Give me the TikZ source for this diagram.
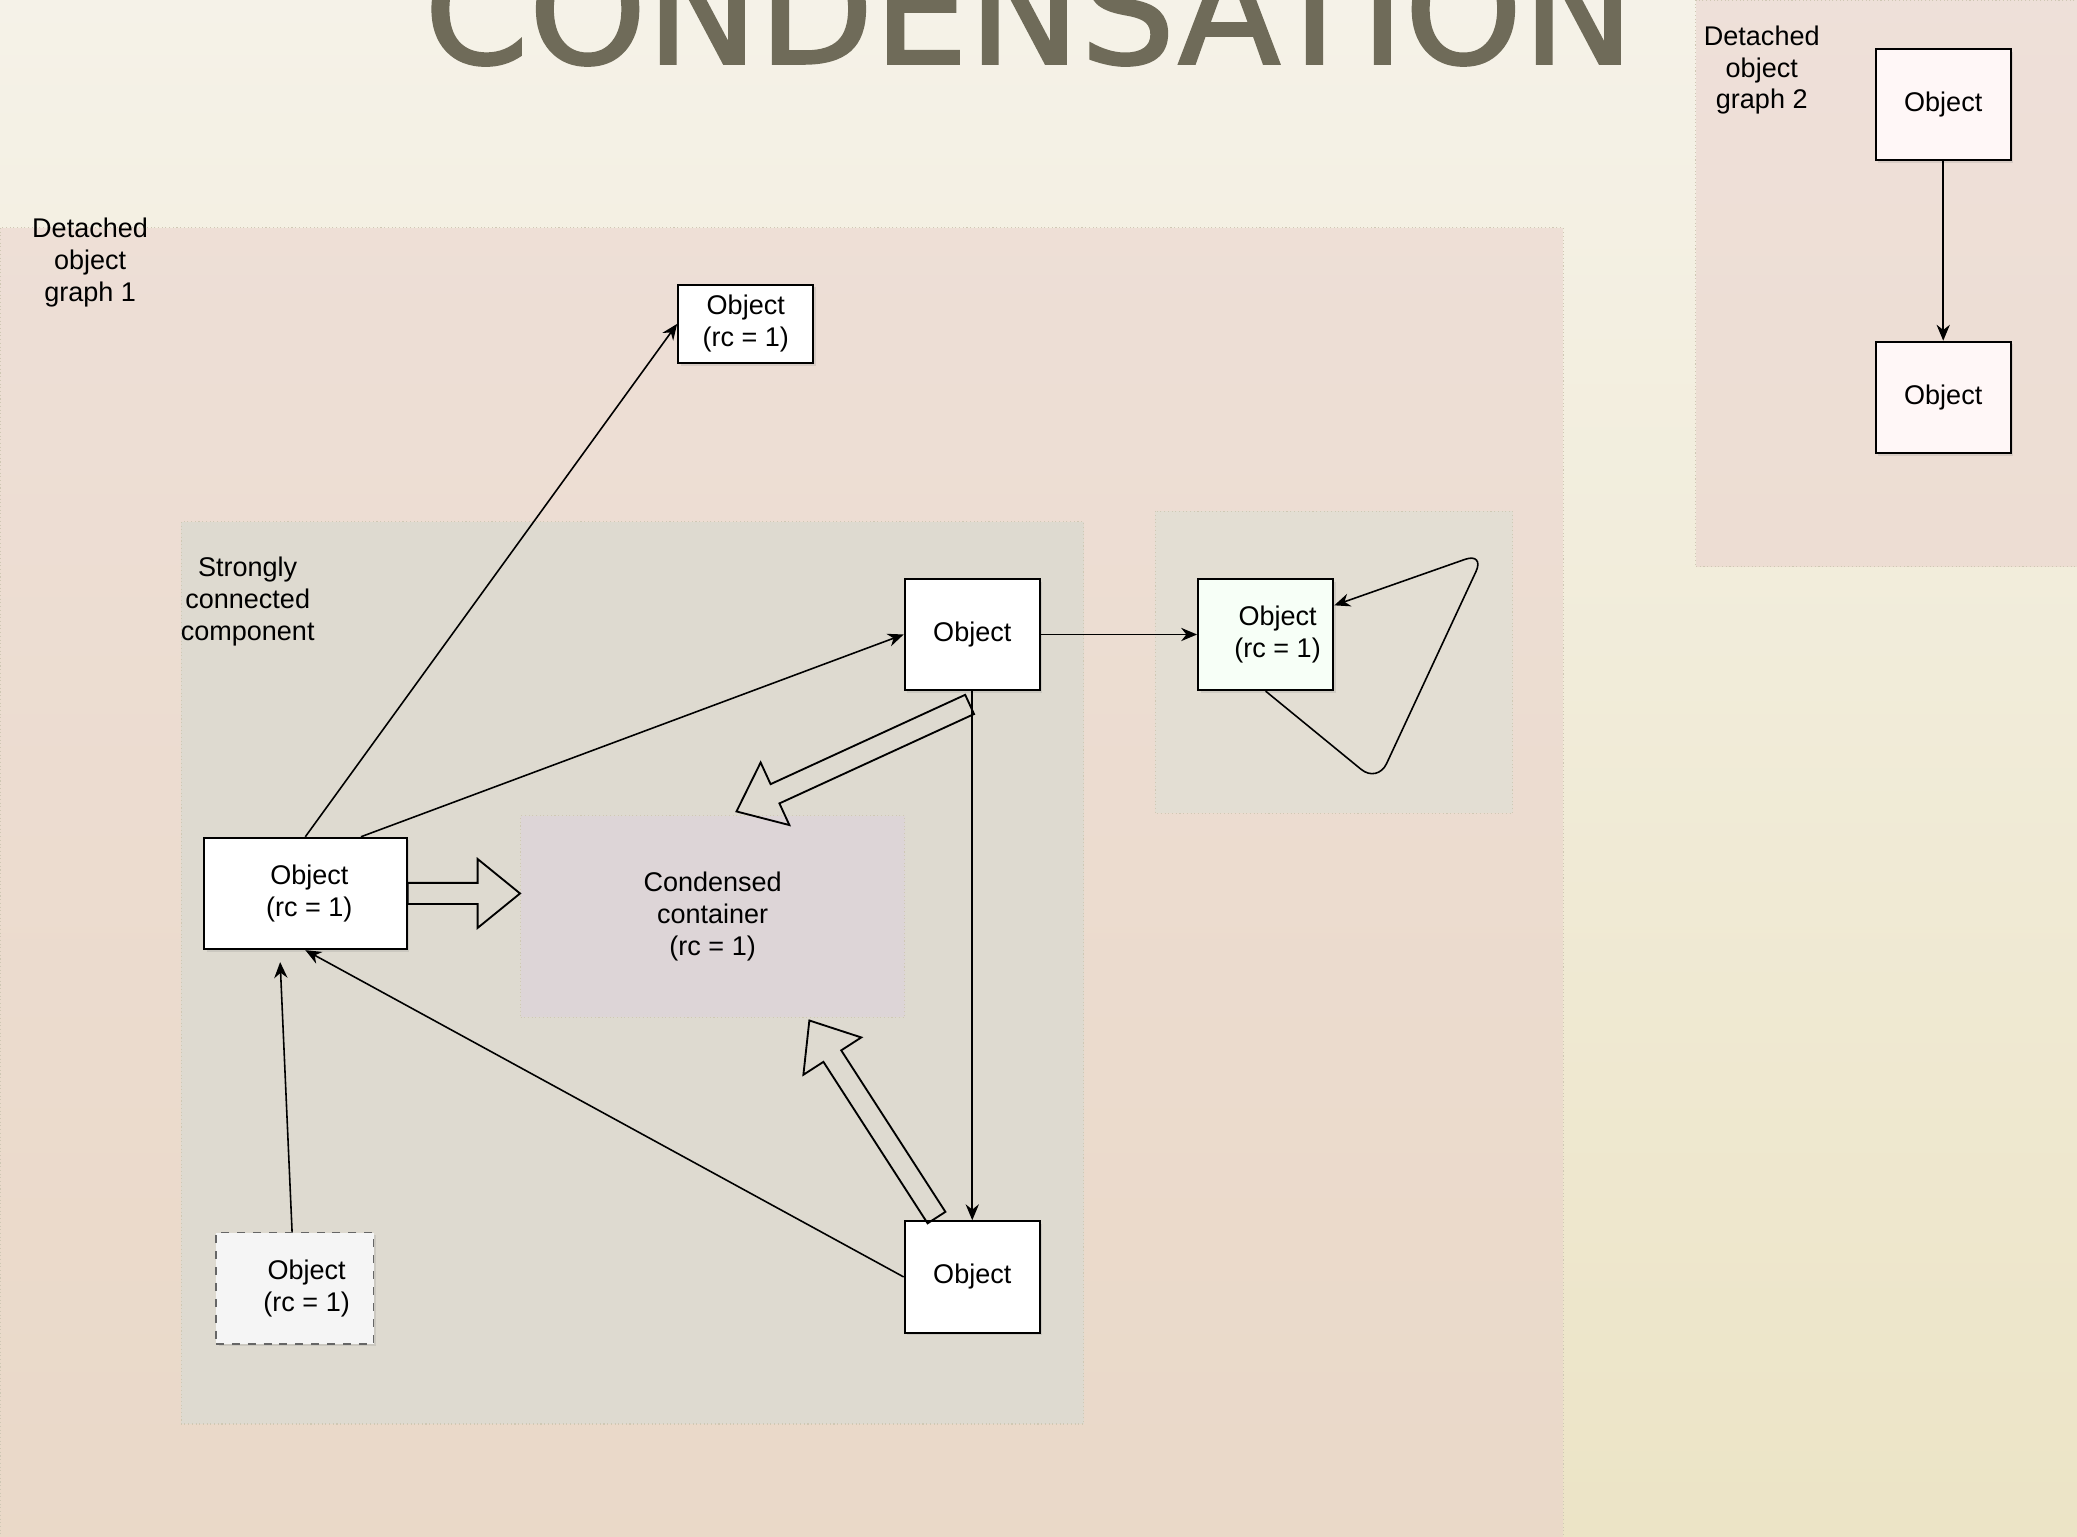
\documentclass[tikz,border=0pt]{standalone}
\usepackage{fontspec}
\setmainfont{Liberation Sans}
\newfontfamily\titlefont[FakeBold=1.6]{DejaVu Sans}
\usepackage{tikz}
\usetikzlibrary{arrows.meta,calc,shadows}
\definecolor{paper}{HTML}{F5F2E8}
\definecolor{paperlow}{HTML}{ECE4C6}
\definecolor{graphpink}{HTML}{E9CFCB}
\definecolor{sccgray}{HTML}{DEDAD0}
\definecolor{loopgray}{HTML}{E3DED3}
\definecolor{condmauve}{HTML}{DDD5D7}
\definecolor{titleink}{HTML}{6F6B59}
\definecolor{framedots}{HTML}{CFC8B4}
\newcommand\boxfont{\fontsize{10.2}{12}\selectfont}
\newcommand\fatarrow[2]{%
 \coordinate (fh) at ($(#2)!16pt!(#1)$);
 \draw[fat] ($(#1)!4pt!90:(#2)$) -- ($(fh)!4pt!90:(#2)$) -- ($(fh)!13pt!90:(#2)$)
  -- (#2) -- ($(fh)!13pt!-90:(#2)$) -- ($(fh)!4pt!-90:(#2)$)
  -- ($(#1)!4pt!-90:(#2)$) -- cycle;}

\begin{document}
\begin{tikzpicture}[x=0.5pt,y=-0.5pt,
 obj/.style={draw,line width=0.8pt,fill=white,minimum width=51pt,minimum height=42pt,
  inner sep=0pt,align=center,font=\boxfont,
  drop shadow={opacity=0.2,shadow xshift=1pt,shadow yshift=-1pt}},
 group/.style={draw=framedots,densely dotted,line width=0.4pt},
 grouplabel/.style={align=center,font=\boxfont,inner sep=0pt},
 link/.style={-{Stealth[length=6pt,width=5pt]},line width=0.6pt},
 fat/.style={line width=0.7pt,line join=miter}]
 \useasboundingbox (0,0) rectangle (1568,1160);
 \clip (0,0) rectangle (1568,1160);
 \shade[top color=paper,bottom color=paperlow] (0,0) rectangle (1568,1160);
 \node[font=\titlefont\fontsize{56.5}{56.5}\selectfont,text=titleink,anchor=base]
  (title) at (777,48) {CONDENSATION};
 % groups
 \fill[graphpink,fill opacity=0.5] (0,172) rectangle (1180,1180);
 \draw[group] (0,172) rectangle (1180,1180);
 \fill[graphpink,fill opacity=0.5] (1280,0) rectangle (1590,428);
 \draw[group] (1280,0) rectangle (1590,428);
 \filldraw[group,fill=sccgray] (137,394) rectangle (818,1075);
 \filldraw[group,fill=loopgray] (872,386) rectangle (1142,614);
 \node[grouplabel] (g1lbl) at (68,198) {Detached\\object\\graph 1};
 \node[grouplabel] (g2lbl) at (1330,53) {Detached\\object\\graph 2};
 \node[grouplabel] (scclbl) at (187,454) {Strongly\\connected\\component};
 % objects
 \node[group,fill=condmauve,minimum width=145pt,minimum height=76pt,align=center,
  font=\boxfont] (cont) at (538,692) {Condensed\\container\\(rc = 1)};
 \node[obj,minimum height=29.5pt] (top) at (563,244.5) {Object\\(rc = 1)};
 \node[obj] (tr) at (734,479) {Object};
 \node[obj,minimum width=76.5pt] (lft) at (230.5,674.5)
  {\hspace*{3pt}Object\\\hspace*{3pt}(rc = 1)};
 \node[obj,draw=gray!80!black,dashed,line width=0.6pt,fill=black!4!white,
  minimum width=59.5pt,drop shadow={opacity=0}] (dsh) at (222.5,972.5)
  {\hspace*{9pt}Object\\\hspace*{9pt}(rc = 1)};
 \node[obj] (br) at (734,964) {Object};
 \node[obj,fill=green!3!white] (rt) at (955.5,479)
  {\hspace*{9pt}Object\\\hspace*{9pt}(rc = 1)};
 \node[obj,fill=red!3!white] (ga) at (1467,79) {Object};
 \node[obj,fill=red!3!white] (gb) at (1467,300) {Object};
 % references
 \draw[link] (lft.north) -- (top.west);
 \draw[link] ($(lft.north)+(42,0)$) -- (tr.west);
 \draw[link] (tr.east) -- (rt.west);
 \draw[link] (tr.south) -- (br.north);
 \draw[link] (br.west) -- (lft.south);
 \draw[link] ($(dsh.north)+(-2,0)$) -- ($(lft.south)+(-19,9)$);
 \draw[link] (ga.south) -- (gb.north);
 \coordinate (loopa) at (1040,591);
 \coordinate (loopb) at (1121,417);
 \draw[link,rounded corners=8pt] (rt.south) -- (loopa) -- (loopb) -- ($(rt.east)+(0,-22)$);
 % condensation
 \coordinate (fa1) at (lft.east);
 \coordinate (fa2) at (cont.west |- lft.east);
 \coordinate (fb1) at ($(tr.south)+(-2,10)$);
 \coordinate (fb2) at ($(cont.north)+(18,-3)$);
 \coordinate (fc1) at ($(br.north)+(-27,-2)$);
 \coordinate (fc2) at ($(cont.south)+(73,2)$);
 \fatarrow{fa1}{fa2}
 \fatarrow{fb1}{fb2}
 \fatarrow{fc1}{fc2}
\end{tikzpicture}
\end{document}
